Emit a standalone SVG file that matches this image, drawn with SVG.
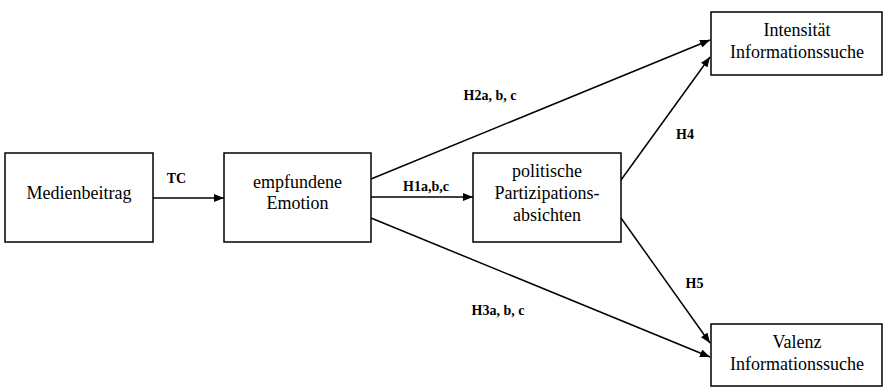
<svg xmlns="http://www.w3.org/2000/svg" width="884" height="388" viewBox="0 0 884 388">
<style>
.box{fill:#fff;stroke:#000;stroke-width:1.5}
.t{font-family:'Liberation Serif', 'Times New Roman', Times, serif;font-size:18px;text-anchor:middle;fill:#000}
.l{font-family:'Liberation Serif', 'Times New Roman', Times, serif;font-size:14px;font-weight:bold;text-anchor:middle;fill:#000}
.c{stroke:#000;stroke-width:1.5;fill:none;marker-end:url(#ah)}
</style>
<defs>
<marker id="ah" viewBox="0 0 10 8" refX="10" refY="4" markerWidth="10" markerHeight="8" markerUnits="userSpaceOnUse" orient="auto">
<path d="M0,0 L10,4 L0,8 Z" fill="#000"/>
</marker>
</defs>
<rect width="884" height="388" fill="#fff"/>
<g id="connectors">
<line class="c" x1="153" y1="198" x2="224" y2="198"/>
<line class="c" x1="371" y1="197" x2="473" y2="197"/>
<line class="c" x1="371" y1="179" x2="710" y2="40"/>
<line class="c" x1="371" y1="218" x2="710" y2="357"/>
<line class="c" x1="621" y1="180" x2="710" y2="57"/>
<line class="c" x1="621" y1="218" x2="710" y2="343"/>
<text class="l" x="176.5" y="183">TC</text>
<text class="l" x="426" y="191">H1a,b,c</text>
<text class="l" x="490" y="100">H2a, b, c</text>
<text class="l" x="498" y="315">H3a, b, c</text>
<text class="l" x="685" y="139">H4</text>
<text class="l" x="694.5" y="288">H5</text>
</g>
<g id="medienbeitrag">
<rect class="box" x="5" y="153" width="148" height="89"/>
<text class="t" x="79" y="199">Medienbeitrag</text>
</g>
<g id="emotion">
<rect class="box" x="224" y="153" width="147" height="89"/>
<text class="t" x="297.5" y="188">empfundene</text>
<text class="t" x="297.5" y="209">Emotion</text>
</g>
<g id="partizipation">
<rect class="box" x="473" y="153" width="148" height="89"/>
<text class="t" x="547" y="177">politische</text>
<text class="t" x="547" y="199">Partizipations-</text>
<text class="t" x="547" y="221">absichten</text>
</g>
<g id="intensitaet">
<rect class="box" x="711" y="12" width="171" height="63"/>
<text class="t" x="797" y="36">Intensität</text>
<text class="t" x="797" y="57.5">Informationssuche</text>
</g>
<g id="valenz">
<rect class="box" x="711" y="324" width="171" height="62"/>
<text class="t" x="797" y="348">Valenz</text>
<text class="t" x="797" y="370">Informationssuche</text>
</g>
</svg>
